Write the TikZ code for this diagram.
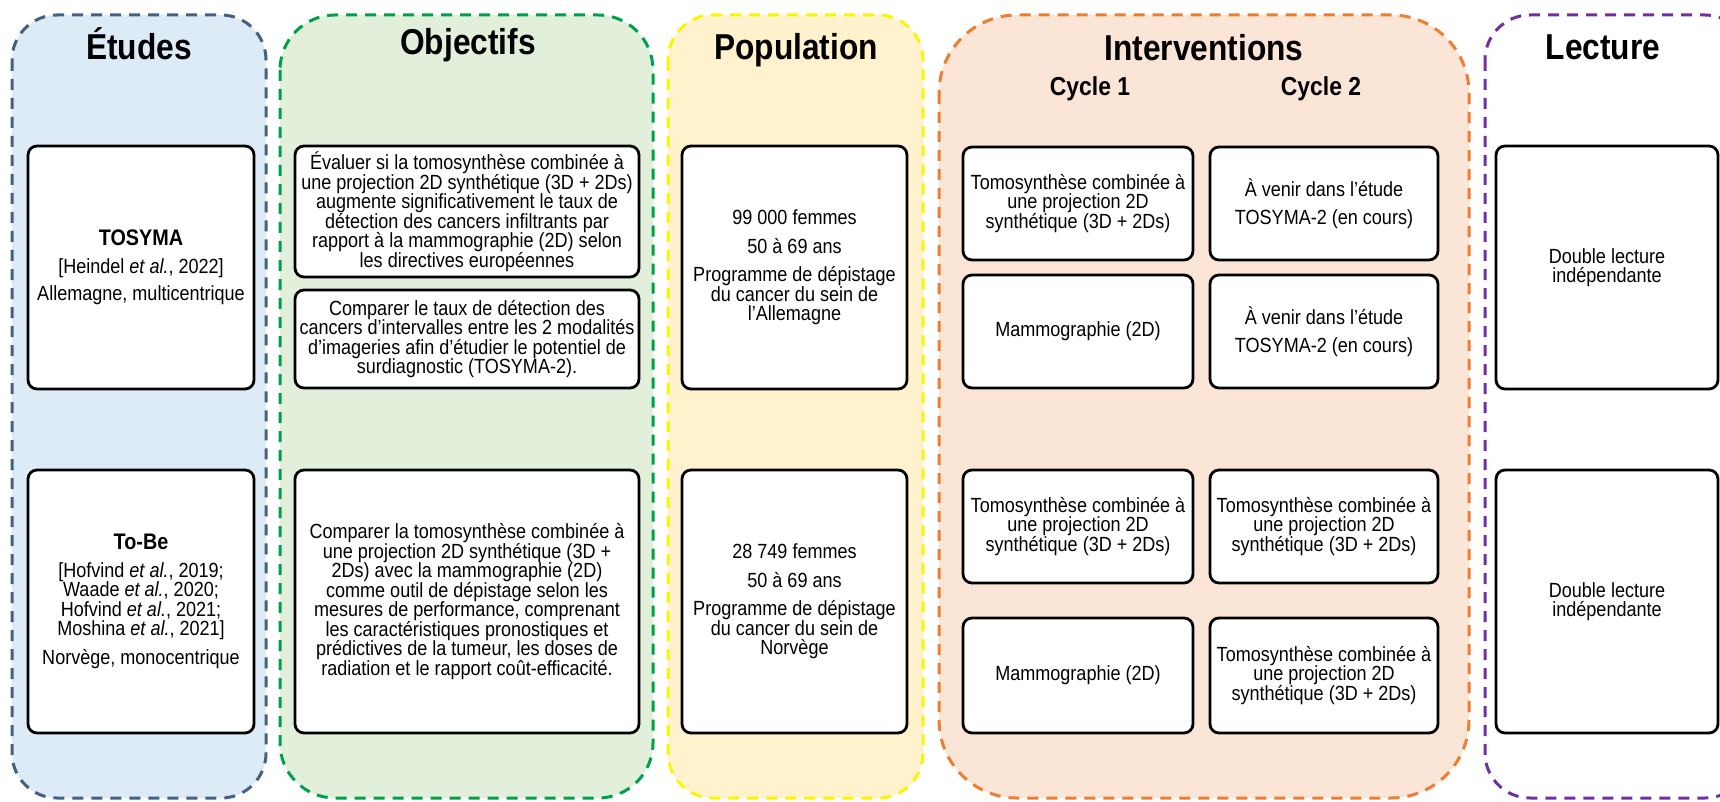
\documentclass[tikz,border=0pt]{standalone}
\usepackage{fontspec}
\setmainfont{Liberation Sans}[FakeStretch=0.88]
\definecolor{etudesfill}{RGB}{221,235,247}
\definecolor{etudesdraw}{RGB}{68,96,130}
\definecolor{objfill}{RGB}{226,239,218}
\definecolor{objdraw}{RGB}{0,160,75}
\definecolor{popfill}{RGB}{255,242,204}
\definecolor{popdraw}{RGB}{250,245,0}
\definecolor{intfill}{RGB}{251,229,214}
\definecolor{intdraw}{RGB}{237,125,49}
\definecolor{lecdraw}{RGB}{112,48,160}
\newcommand{\nometude}[1]{{\fontsize{22.5}{24}\selectfont\bfseries #1}}
\tikzset{
    panel/.style={line width=3pt, dash pattern=on 11pt off 8pt, rounded corners=#1},
    panel/.default=45pt,
    box/.style={draw, fill=white, line width=2.8pt, rounded corners=9pt, align=center, inner sep=2pt, font=\fontsize{20.5}{19.5}\selectfont},
    titre/.style={anchor=base, font=\fontsize{36}{40}\selectfont\bfseries},
    cycle/.style={anchor=base, font=\fontsize{26}{28}\selectfont\bfseries}
}

\begin{document}
\begin{tikzpicture}[x=1pt,y=-1pt]

    \useasboundingbox (0,0) rectangle (1720,802);
    \fill[white] (0,0) rectangle (1720,802);

    \draw[panel, draw=etudesdraw, fill=etudesfill] (12,15) rectangle (266,798);
    \draw[panel=55pt, draw=objdraw, fill=objfill] (280,15) rectangle (653,798);
    \draw[panel, draw=popdraw, fill=popfill] (668,15) rectangle (923,798);
    \draw[panel=78pt, draw=intdraw, fill=intfill] (939,15) rectangle (1469,798);
    \draw[panel, draw=lecdraw, fill=white] (1485,15) rectangle (1750,798);

    \node[titre] (tEtudes) at (139,60) {Études};
    \node[titre] (tObjectifs) at (468,55) {Objectifs};
    \node[titre] (tPopulation) at (796,60) {Population};
    \node[titre] (tInterventions) at (1204,61) {Interventions};
    \node[titre] (tLecture) at (1603,60) {Lecture};
    \node[cycle] (tCycleA) at (1090,96) {Cycle 1};
    \node[cycle] (tCycleB) at (1321,96) {Cycle 2};

    \node[box, minimum width=226pt, minimum height=243pt] (tosyma) at (141,267.5)
        {\nometude{TOSYMA}\\[8pt][Heindel \textit{et al.}, 2022]\\[8pt]Allemagne, multicentrique};
    \node[box, minimum width=226pt, minimum height=263pt] (tobe) at (141,601.5)
        {\nometude{To-Be}\\[8pt][Hofvind \textit{et al.}, 2019;\\Waade \textit{et al.}, 2020;\\Hofvind \textit{et al.}, 2021;\\Moshina \textit{et al.}, 2021]\\[9pt]Norvège, monocentrique};

    \node[box, minimum width=344pt, minimum height=131pt] (obj1) at (467,211.5)
        {Évaluer si la tomosynthèse combinée à\\une projection 2D synthétique (3D + 2Ds)\\augmente significativement le taux de\\détection des cancers infiltrants par\\rapport à la mammographie (2D) selon\\les directives européennes};
    \node[box, minimum width=344pt, minimum height=98pt] (obj2) at (467,339)
        {Comparer le taux de détection des\\cancers d'intervalles entre les 2 modalités\\d'imageries afin d'étudier le potentiel de\\surdiagnostic (TOSYMA-2).};
    \node[box, minimum width=344pt, minimum height=263pt] (obj3) at (467,601.5)
        {Comparer la tomosynthèse combinée à\\une projection 2D synthétique (3D +\\2Ds) avec la mammographie (2D)\\comme outil de dépistage selon les\\mesures de performance, comprenant\\les caractéristiques pronostiques et\\prédictives de la tumeur, les doses de\\radiation et le rapport coût-efficacité.};

    \node[box, minimum width=225pt, minimum height=243pt] (pop1) at (794.5,267.5)
        {99 000 femmes\\[9pt]50 à 69 ans\\[9pt]Programme de dépistage\\du cancer du sein de\\l'Allemagne};
    \node[box, minimum width=225pt, minimum height=263pt] (pop2) at (794.5,601.5)
        {28 749 femmes\\[9pt]50 à 69 ans\\[9pt]Programme de dépistage\\du cancer du sein de\\Norvège};

    \node[box, minimum width=230pt, minimum height=113pt] (cycA1) at (1078,203.5)
        {Tomosynthèse combinée à\\une projection 2D\\synthétique (3D + 2Ds)};
    \node[box, minimum width=230pt, minimum height=113pt] (cycA2) at (1078,331.5)
        {Mammographie (2D)};
    \node[box, minimum width=230pt, minimum height=113pt] (cycA3) at (1078,526.5)
        {Tomosynthèse combinée à\\une projection 2D\\synthétique (3D + 2Ds)};
    \node[box, minimum width=230pt, minimum height=115pt] (cycA4) at (1078,675.5)
        {Mammographie (2D)};

    \node[box, minimum width=228pt, minimum height=113pt] (cycB1) at (1324,203.5)
        {À venir dans l'étude\\[8pt]TOSYMA-2 (en cours)};
    \node[box, minimum width=228pt, minimum height=113pt] (cycB2) at (1324,331.5)
        {À venir dans l'étude\\[8pt]TOSYMA-2 (en cours)};
    \node[box, minimum width=228pt, minimum height=113pt] (cycB3) at (1324,526.5)
        {Tomosynthèse combinée à\\une projection 2D\\synthétique (3D + 2Ds)};
    \node[box, minimum width=228pt, minimum height=115pt] (cycB4) at (1324,675.5)
        {Tomosynthèse combinée à\\une projection 2D\\synthétique (3D + 2Ds)};

    \node[box, minimum width=222pt, minimum height=243pt] (lec1) at (1607,267.5)
        {Double lecture\\indépendante};
    \node[box, minimum width=222pt, minimum height=263pt] (lec2) at (1607,601.5)
        {Double lecture\\indépendante};

\end{tikzpicture}
\end{document}
